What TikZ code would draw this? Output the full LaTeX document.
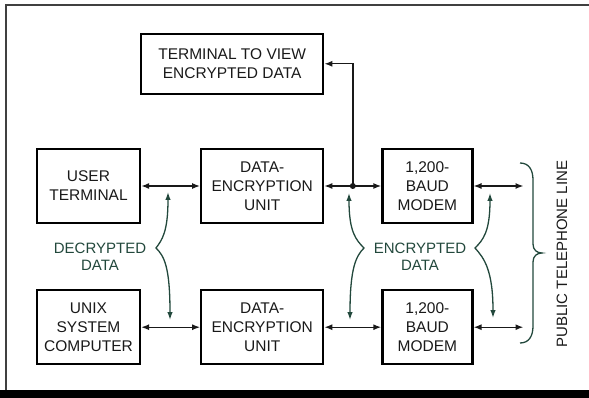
\documentclass[tikz,border=0pt]{standalone}
\usepackage{fontspec}
\setmainfont{Liberation Sans}
\usepackage{tikz}
\usetikzlibrary{arrows.meta, positioning, calc}
\definecolor{datagreen}{RGB}{34,72,60}
\tikzstyle{unit} = [rectangle, draw=black, line width=2.2pt, align=center, inner sep=1pt, text=black!90, font=\fontsize{15.5}{19}\selectfont]
\tikzstyle{link} = [line width=1.4pt, black!90, {Latex[length=8pt,width=6pt]}-{Latex[length=8pt,width=6pt]}]
\tikzstyle{tap} = [line width=1.4pt, black!90, -{Latex[length=8pt,width=6pt]}]
\tikzstyle{brace} = [line width=1.3pt, datagreen, {Latex[length=8pt,width=5.5pt]}-{Latex[length=8pt,width=5.5pt]}]
\tikzstyle{tag} = [datagreen, align=center, font=\fontsize{15}{17}\selectfont]

\begin{document}
\begin{tikzpicture}[x=1pt, y=-1pt]
  \useasboundingbox (0,0) rectangle (589,398);
  % frame
  \draw[black!75, line width=2pt] (6,392) -- (6,5) -- (589,5);
  \fill[black] (0,390) rectangle (589,398);

  \node[unit, minimum width=103pt, minimum height=74pt] (ut) at (88.5,186) {USER\\TERMINAL};
  \node[unit, minimum width=122pt, minimum height=74pt, right=59pt of ut] (deu1) {DATA-\\ENCRYPTION\\UNIT};
  \node[unit, minimum width=90pt, minimum height=74pt, right=57pt of deu1] (mod1) {1,200-\\BAUD\\MODEM};
  \node[unit, minimum width=182pt, minimum height=60pt, above left=53pt and 0pt of deu1.north east] (tv) {TERMINAL TO VIEW\\ENCRYPTED DATA};
  \node[unit, minimum width=103pt, minimum height=74pt, below=65pt of ut] (unix) {UNIX\\SYSTEM\\COMPUTER};
  \node[unit, minimum width=122pt, minimum height=74pt, below=65pt of deu1] (deu2) {DATA-\\ENCRYPTION\\UNIT};
  \node[unit, minimum width=90pt, minimum height=74pt, below=65pt of mod1] (mod2) {1,200-\\BAUD\\MODEM};

  \coordinate[right=50pt of mod1.east] (pl1);
  \coordinate[right=50pt of mod2.east] (pl2);
  \path (deu1.east) -- coordinate[pos=.5] (j1) (mod1.west);

  \draw[link] (ut) -- (deu1);
  \draw[link] (deu1) -- (mod1);
  \draw[link] (mod1) -- (pl1);
  \draw[link] (unix) -- (deu2);
  \draw[link] (deu2) -- (mod2);
  \draw[link] (mod2) -- (pl2);
  \fill[black!90] (j1) circle (3pt);
  \draw[tap] (j1) |- (tv.east);

  \node[tag] (dec) at (100,257) {DECRYPTED\\DATA};
  \node[tag] (enc) at (420,257) {ENCRYPTED\\DATA};
  \node[rotate=90, text=black!90, font=\fontsize{15}{17}\selectfont] (pub) at (562,254) {PUBLIC TELEPHONE LINE};

  % braces
  \draw[brace] (168,192) .. controls (168,232) and (162,240) .. (156,248)
    .. controls (164,256) and (170,266) .. (170,320);
  \draw[brace] (349,193) .. controls (349,232) and (356,240) .. (364,248)
    .. controls (356,256) and (350,268) .. (350,320);
  \draw[brace] (490,193) .. controls (490,232) and (483,240) .. (475,248)
    .. controls (484,258) and (493,270) .. (493,318);
  \draw[datagreen, line width=1.3pt] (520,163) .. controls (529,163) and (533,170) .. (533,180)
    -- (533,244) .. controls (533,250) and (537,253) .. (542,253)
    .. controls (537,253) and (533,256) .. (533,262)
    -- (533,326) .. controls (533,336) and (529,343) .. (520,343);
\end{tikzpicture}
\end{document}
